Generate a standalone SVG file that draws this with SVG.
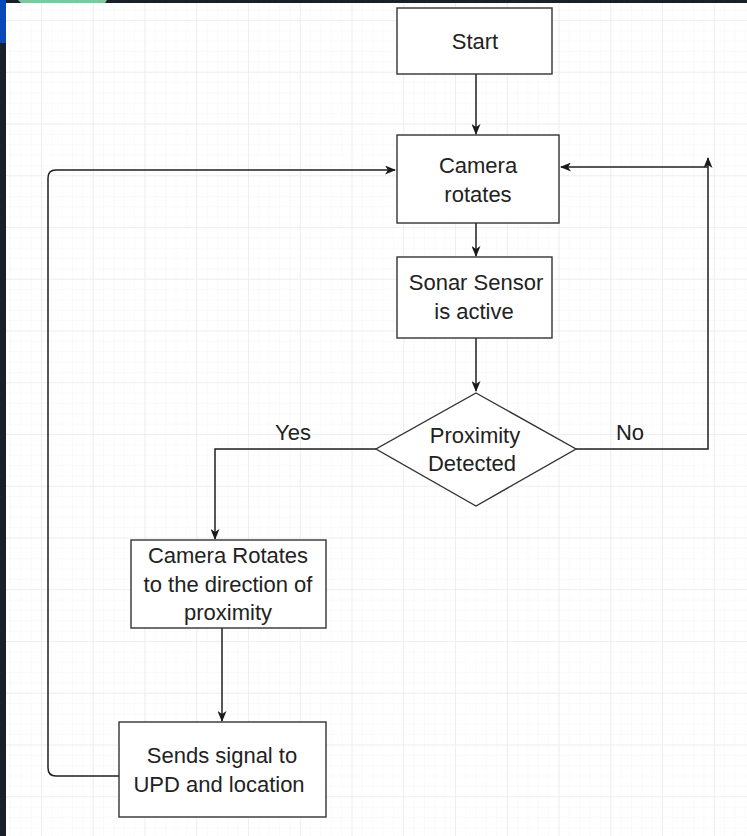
<svg xmlns="http://www.w3.org/2000/svg" width="747" height="836" viewBox="0 0 747 836">
<defs>
<pattern id="minor" x="41" y="20" width="10.35" height="10.35" patternUnits="userSpaceOnUse">
<path d="M0,0 V10.35 M0,0 H10.35" fill="none" stroke="#f6f6f6" stroke-width="1"/>
</pattern>
<pattern id="major" x="41" y="20" width="51.75" height="51.75" patternUnits="userSpaceOnUse">
<path d="M0,0 V51.75 M0,0 H51.75" fill="none" stroke="#ececec" stroke-width="1.5"/>
</pattern>
<marker id="arr" viewBox="0 0 11 9" refX="10" refY="4.5" markerWidth="11" markerHeight="9" markerUnits="userSpaceOnUse" orient="auto">
<path d="M0,0 L11,4.5 L0,9 L3,4.5 z" fill="#1a1a1a"/>
</marker>
</defs>
<style>
.box{fill:#ffffff;stroke:#333333;stroke-width:1.4}
.t{font-family:"Liberation Sans",Arial,sans-serif;font-size:22px;fill:#222222;text-anchor:middle}
.c{fill:none;stroke:#1f1f1f;stroke-width:1.5}
</style>
<rect x="0" y="0" width="747" height="836" fill="#ffffff"/>
<rect x="0" y="0" width="747" height="836" fill="url(#minor)"/>
<rect x="0" y="0" width="747" height="836" fill="url(#major)"/>
<rect x="0" y="0" width="747" height="3" fill="#1b1f2a"/>
<rect x="0" y="0" width="6" height="836" fill="#1b1f2a"/>
<rect x="0" y="0" width="6" height="43" fill="#0a47b8"/>
<polygon points="18,0 107,0 105,3 21,3" fill="#7cc9a0"/>

<g id="connectors">
<path class="c" d="M476,74 V134" marker-end="url(#arr)"/>
<path class="c" d="M476,223 V256" marker-end="url(#arr)"/>
<path class="c" d="M476,338 V391" marker-end="url(#arr)"/>
<path class="c" d="M576,449 H708 V158" marker-end="url(#arr)"/>
<path class="c" d="M708,167 H561" marker-end="url(#arr)"/>
<path class="c" d="M376,449 H215 V539" marker-end="url(#arr)"/>
<path class="c" d="M222,628 V721" marker-end="url(#arr)"/>
<path class="c" d="M119,776 H56 Q48,776 48,768 V178 Q48,170 56,170 H395" marker-end="url(#arr)"/>
<text class="t" x="293" y="440">Yes</text>
<text class="t" x="630" y="440">No</text>
</g>

<g id="start">
<rect class="box" x="397" y="8" width="155" height="66"/>
<text class="t" x="475" y="49">Start</text>
</g>
<g id="camera-rotates">
<rect class="box" x="397" y="135" width="162" height="88"/>
<text class="t" x="478" y="173">Camera</text>
<text class="t" x="478" y="202">rotates</text>
</g>
<g id="sonar">
<rect class="box" x="397" y="257" width="155" height="81"/>
<text class="t" x="476" y="290">Sonar Sensor</text>
<text class="t" x="474" y="319">is active</text>
</g>
<g id="decision">
<polygon class="box" points="476,393 576,449 476,506 376,449"/>
<text class="t" x="475" y="443">Proximity</text>
<text class="t" x="472" y="471">Detected</text>
</g>
<g id="camera-direction">
<rect class="box" x="131" y="540" width="195" height="88"/>
<text class="t" x="228" y="563">Camera Rotates</text>
<text class="t" x="228" y="592">to the direction of</text>
<text class="t" x="228" y="620">proximity</text>
</g>
<g id="sends-signal">
<rect class="box" x="119" y="722" width="207" height="95"/>
<text class="t" x="222" y="763">Sends signal to</text>
<text class="t" x="219" y="792">UPD and location</text>
</g>
</svg>
